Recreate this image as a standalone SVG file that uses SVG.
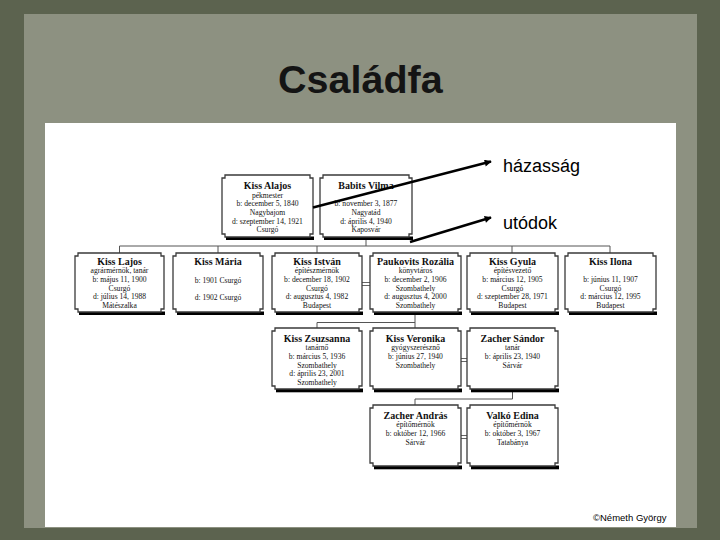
<svg xmlns="http://www.w3.org/2000/svg" width="720" height="540" viewBox="0 0 720 540">
<defs>
<style>
.bx{fill:#fff;stroke:#3a3a3a;stroke-width:1.3}
.sh{fill:#000}
.nm{font-family:"Liberation Serif",serif;font-weight:bold;font-size:10px;fill:#111;text-anchor:middle}
.dt{font-family:"Liberation Serif",serif;font-size:7.6px;fill:#111;text-anchor:middle}
.cn{stroke:#555;stroke-width:1;fill:none}
.mr{stroke:#666;stroke-width:1.2;fill:none}
.ar{stroke:#000;stroke-width:2.4;fill:none}
.lb{font-family:"Liberation Sans",Arial,sans-serif;font-size:18px;fill:#000}
</style>
<marker id="ah" viewBox="0 0 10 10" refX="9" refY="5" markerWidth="9" markerHeight="7" markerUnits="userSpaceOnUse" orient="auto">
<path d="M0,0 L10,5 L0,10 Z" fill="#000"/>
</marker>
</defs>
<rect x="0" y="0" width="720" height="540" fill="#5c634f"/>
<rect x="24" y="14" width="673" height="514" fill="#8d9181"/>
<rect x="45" y="123" width="631" height="404" fill="#fff"/>
<text x="278" y="93" font-family="Liberation Sans,Arial,sans-serif" font-weight="bold" font-size="39.5" fill="#141414">Családfa</text>

<g id="connectors">
<line class="cn" x1="366" y1="240" x2="366" y2="246"/>
<line class="cn" x1="119.5" y1="246" x2="610" y2="246"/>
<line class="cn" x1="119.5" y1="246" x2="119.5" y2="253"/>
<line class="cn" x1="218" y1="246" x2="218" y2="253"/>
<line class="cn" x1="317" y1="246" x2="317" y2="253"/>
<line class="cn" x1="512" y1="246" x2="512" y2="253"/>
<line class="cn" x1="610" y1="246" x2="610" y2="253"/>
<path class="mr" d="M362,282.5 H370 M362,285.5 H370"/>
<line class="cn" x1="415" y1="315" x2="415" y2="328"/>
<line class="cn" x1="317" y1="322.5" x2="415" y2="322.5"/>
<line class="cn" x1="317" y1="322.5" x2="317" y2="328"/>
<path class="mr" d="M461,358.5 H467 M461,361.5 H467"/>
<line class="cn" x1="512.5" y1="392" x2="512.5" y2="399"/>
<line class="cn" x1="415" y1="399" x2="512.5" y2="399"/>
<line class="cn" x1="415" y1="399" x2="415" y2="405"/>
<path class="mr" d="M461,435.5 H467 M461,438.5 H467"/>
</g>

<g id="n-alajos">
<rect class="sh" x="226" y="236.5" width="88" height="3.5"/>
<path class="bx" d="M225,175 H310 V178 H313 V234 H310 V237 H225 V234 H222 V178 H225 Z"/>
<text class="nm" x="267.5" y="188.5">Kiss Alajos</text>
<text class="dt" x="267.5" y="197.5">pékmester</text>
<text class="dt" x="267.5" y="206.2">b: december 5, 1840</text>
<text class="dt" x="267.5" y="215">Nagybajom</text>
<text class="dt" x="267.5" y="223.7">d: szeptember 14, 1921</text>
<text class="dt" x="267.5" y="232.4">Csurgó</text>
</g>
<g id="n-vilma">
<rect class="sh" x="324" y="236.5" width="89" height="3.5"/>
<path class="bx" d="M323,175 H409 V178 H412 V234 H409 V237 H323 V234 H320 V178 H323 Z"/>
<text class="nm" x="366" y="188.5">Babits Vilma</text>
<text class="dt" x="366" y="206.2">b: november 3, 1877</text>
<text class="dt" x="366" y="215">Nagyatád</text>
<text class="dt" x="366" y="223.7">d: április 4, 1940</text>
<text class="dt" x="366" y="232.4">Kaposvár</text>
</g>

<g id="n-lajos">
<rect class="sh" x="79" y="311.5" width="86" height="3.5"/>
<path class="bx" d="M78,253 H161 V256 H164 V309 H161 V312 H78 V309 H75 V256 H78 Z"/>
<text class="nm" x="119.5" y="264.5">Kiss Lajos</text>
<text class="dt" x="119.5" y="273.3">agrármérnök, tanár</text>
<text class="dt" x="119.5" y="282">b: május 11, 1900</text>
<text class="dt" x="119.5" y="290.7">Csurgó</text>
<text class="dt" x="119.5" y="299.4">d: július 14, 1988</text>
<text class="dt" x="119.5" y="308">Mátészalka</text>
</g>
<g id="n-maria">
<rect class="sh" x="177" y="311.5" width="87" height="3.5"/>
<path class="bx" d="M176,253 H260 V256 H263 V309 H260 V312 H176 V309 H173 V256 H176 Z"/>
<text class="nm" x="218" y="264.5">Kiss Mária</text>
<text class="dt" x="218" y="283.4">b: 1901 Csurgó</text>
<text class="dt" x="218" y="299.7">d: 1902 Csurgó</text>
</g>
<g id="n-istvan">
<rect class="sh" x="276" y="311.5" width="87" height="3.5"/>
<path class="bx" d="M275,253 H359 V256 H362 V309 H359 V312 H275 V309 H272 V256 H275 Z"/>
<text class="nm" x="317" y="264.5">Kiss István</text>
<text class="dt" x="317" y="273.3">építészmérnök</text>
<text class="dt" x="317" y="282">b: december 18, 1902</text>
<text class="dt" x="317" y="290.7">Csurgó</text>
<text class="dt" x="317" y="299.4">d: augusztus 4, 1982</text>
<text class="dt" x="317" y="308">Budapest</text>
</g>
<g id="n-rozalia">
<rect class="sh" x="374" y="311.5" width="88" height="3.5"/>
<path class="bx" d="M373,253 H458 V256 H461 V309 H458 V312 H373 V309 H370 V256 H373 Z"/>
<text class="nm" x="415.5" y="264.5">Paukovits Rozália</text>
<text class="dt" x="415.5" y="273.3">könyvtáros</text>
<text class="dt" x="415.5" y="282">b: december 2, 1906</text>
<text class="dt" x="415.5" y="290.7">Szombathely</text>
<text class="dt" x="415.5" y="299.4">d: augusztus 4, 2000</text>
<text class="dt" x="415.5" y="308">Szombathely</text>
</g>
<g id="n-gyula">
<rect class="sh" x="471" y="311.5" width="88" height="3.5"/>
<path class="bx" d="M470,253 H555 V256 H558 V309 H555 V312 H470 V309 H467 V256 H470 Z"/>
<text class="nm" x="512.5" y="264.5">Kiss Gyula</text>
<text class="dt" x="512.5" y="273.3">építésvezető</text>
<text class="dt" x="512.5" y="282">b: március 12, 1905</text>
<text class="dt" x="512.5" y="290.7">Csurgó</text>
<text class="dt" x="512.5" y="299.4">d: szeptember 28, 1971</text>
<text class="dt" x="512.5" y="308">Budapest</text>
</g>
<g id="n-ilona">
<rect class="sh" x="569" y="311.5" width="88" height="3.5"/>
<path class="bx" d="M568,253 H653 V256 H656 V309 H653 V312 H568 V309 H565 V256 H568 Z"/>
<text class="nm" x="610.5" y="264.5">Kiss Ilona</text>
<text class="dt" x="610.5" y="282">b: június 11, 1907</text>
<text class="dt" x="610.5" y="290.7">Csurgó</text>
<text class="dt" x="610.5" y="299.4">d: március 12, 1995</text>
<text class="dt" x="610.5" y="308">Budapest</text>
</g>

<g id="n-zsuzsanna">
<rect class="sh" x="276" y="388.5" width="87" height="3.8"/>
<path class="bx" d="M275,328 H359 V331 H362 V386 H359 V389 H275 V386 H272 V331 H275 Z"/>
<text class="nm" x="317" y="341.8">Kiss Zsuzsanna</text>
<text class="dt" x="317" y="350.3">tanárnő</text>
<text class="dt" x="317" y="359">b: március 5, 1936</text>
<text class="dt" x="317" y="367.7">Szombathely</text>
<text class="dt" x="317" y="376.4">d: április 23, 2001</text>
<text class="dt" x="317" y="385">Szombathely</text>
</g>
<g id="n-veronika">
<rect class="sh" x="374" y="388.5" width="88" height="3.8"/>
<path class="bx" d="M373,328 H458 V331 H461 V386 H458 V389 H373 V386 H370 V331 H373 Z"/>
<text class="nm" x="415.5" y="341.8">Kiss Veronika</text>
<text class="dt" x="415.5" y="350.3">gyógyszerésznő</text>
<text class="dt" x="415.5" y="359">b: június 27, 1940</text>
<text class="dt" x="415.5" y="367.7">Szombathely</text>
</g>
<g id="n-sandor">
<rect class="sh" x="471" y="388.5" width="88" height="3.8"/>
<path class="bx" d="M470,328 H555 V331 H558 V386 H555 V389 H470 V386 H467 V331 H470 Z"/>
<text class="nm" x="512.5" y="341.8">Zacher Sándor</text>
<text class="dt" x="512.5" y="350.3">tanár</text>
<text class="dt" x="512.5" y="359">b: április 23, 1940</text>
<text class="dt" x="512.5" y="367.7">Sárvár</text>
</g>

<g id="n-andras">
<rect class="sh" x="374" y="465.5" width="88" height="3.8"/>
<path class="bx" d="M373,405 H458 V408 H461 V463 H458 V466 H373 V463 H370 V408 H373 Z"/>
<text class="nm" x="415.5" y="418.5">Zacher András</text>
<text class="dt" x="415.5" y="427.2">építőmérnök</text>
<text class="dt" x="415.5" y="436">b: október 12, 1966</text>
<text class="dt" x="415.5" y="444.7">Sárvár</text>
</g>
<g id="n-edina">
<rect class="sh" x="471" y="465.5" width="88" height="3.8"/>
<path class="bx" d="M470,405 H555 V408 H558 V463 H555 V466 H470 V463 H467 V408 H470 Z"/>
<text class="nm" x="512.5" y="418.5">Valkó Edina</text>
<text class="dt" x="512.5" y="427.2">építőmérnök</text>
<text class="dt" x="512.5" y="436">b: október 3, 1967</text>
<text class="dt" x="512.5" y="444.7">Tatabánya</text>
</g>

<g id="annotations">
<line class="ar" x1="313" y1="207.5" x2="491" y2="161.5" marker-end="url(#ah)"/>
<line class="ar" x1="410" y1="242" x2="491" y2="217.5" marker-end="url(#ah)"/>
<text class="lb" x="503" y="172">házasság</text>
<text class="lb" x="503" y="229">utódok</text>
</g>
<text x="593" y="521" font-family="Liberation Sans,Arial,sans-serif" font-size="9.5" fill="#000">©Németh György</text>
</svg>
